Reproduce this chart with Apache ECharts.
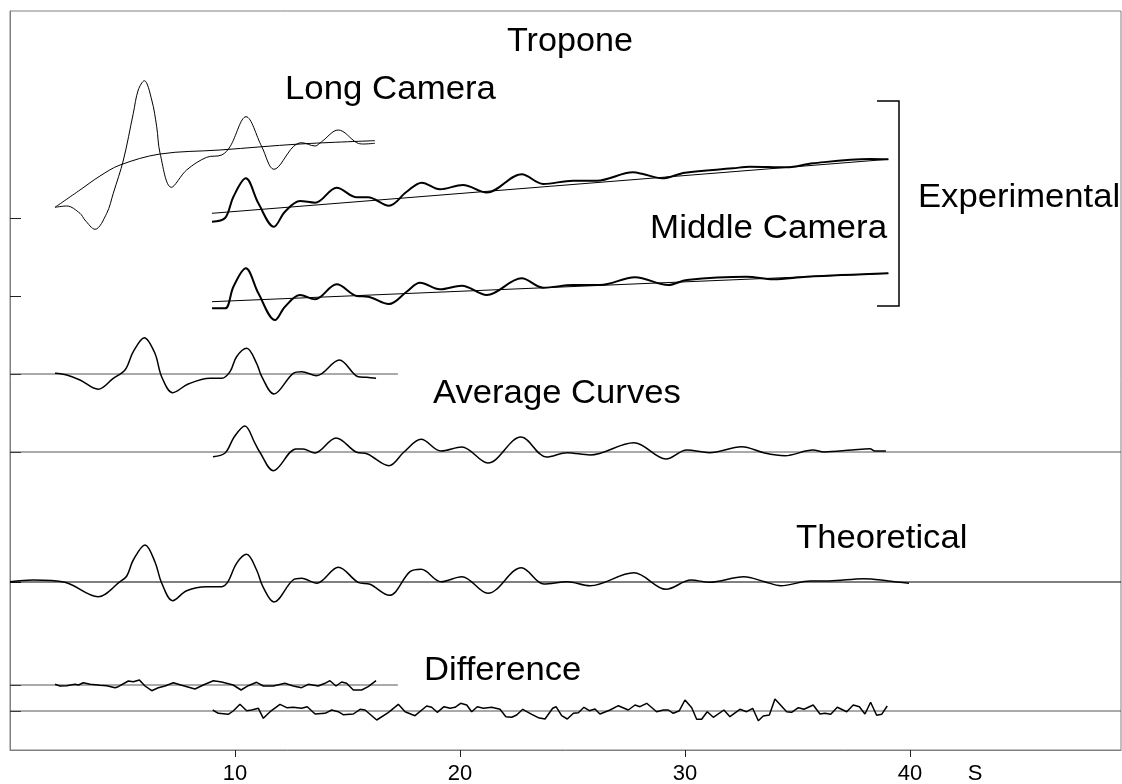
<!DOCTYPE html>
<html>
<head>
<meta charset="utf-8">
<script src="https://cdn.jsdelivr.net/npm/echarts@6/dist/echarts.min.js"></script>
<style>
  html, body { margin: 0; padding: 0; background: #fff; }
  #chart { width: 1122px; height: 784px; }
</style>
</head>
<body>
<div id="chart"></div>
<script>
/* ================================
   DATA  (x in S, y in stacked offset units)
================================ */
const xTicks = [10, 20, 30, 40];
const xMax = 49.38;
const shortBaseEnd = 17.24;

// experimental curves, absolute heights
const longExp = [[2.00,542.7],[2.52,544],[3.11,536.7],[3.33,530],[3.78,520.7],[4.30,536.7],[4.59,556.7],
  [5.04,590],[5.48,636.7],[5.70,660],[5.97,669.3],[6.30,650],[6.52,623.3],[6.67,596.7],[7.17,562.7],
  [7.85,580],[8.74,592.7],[9.41,595],[9.78,603.3],[10.49,633.3],[11.19,603.3],[11.73,580.7],[12.59,603.3],
  [12.96,607.3],[13.56,604],[13.85,608.3],[14.59,620],[15.41,607.3],[15.70,606],[16.22,606.7]];
const longBack = [[2.00,542.7],[3.11,560],[4.00,574],[4.89,585],[6.67,596],[9.33,600],[12.89,606],[16.22,609.3]];

const midExp1 = [[8.98,528.3],[9.56,532],[9.93,553.3],[10.48,571.7],[11.04,546.7],[11.73,523.3],[12.22,538.3],
  [12.89,549],[13.56,547.3],[14.52,562.3],[15.41,552.7],[15.91,552.7],[16.84,544.3],[17.63,558.3],[18.30,567.3],
  [19.11,560.7],[20.13,565],[21.19,557.5],[22.74,575.7],[23.70,566],[25.02,569.3],[26.08,569.3],[27.69,577.7],
  [28.13,576],[28.98,571.7],[30.00,577.3],[32.13,581.7],[32.89,583.3],[34.52,582.7],[35.69,586.7],[38.22,591],[39.04,590.7]];
const midBack1 = [[8.98,536.7],[39.04,590.7]];

const midExp2 = [[8.98,441.7],[9.56,441.7],[9.93,463.3],[10.48,481.7],[11.04,456.7],[11.78,430],[12.22,443.3],
  [12.89,455],[13.56,450.7],[14.52,465.7],[15.41,454],[15.92,453.3],[16.84,446],[17.63,458.3],[18.22,467.3],
  [19.11,460.7],[20.08,464.3],[21.19,455],[22.74,471.7],[23.70,462.3],[25.04,465],[26.22,465],[27.78,472.7],
  [29.26,465],[30.08,470],[32.74,473.3],[33.92,470.7],[35.41,473.3],[39.04,476.7]];
const midBack2 = [[8.98,448.3],[39.04,476.7]];

// stacked curves: deviation from their baseline
const avgLongOffset = 376;
const avgLong = [[2.00,0.7],[2.52,-1],[3.11,-6],[3.92,-15.3],[4.59,-4.3],[5.11,4],[5.48,22.3],[5.97,36.3],
  [6.44,20.7],[6.74,-2.7],[7.23,-18.7],[7.92,-10],[8.89,-4.3],[9.41,-4.3],[9.78,2.3],[10.07,17.3],[10.52,25.7],
  [10.96,10.7],[11.19,-2.7],[11.73,-20],[12.59,0.7],[12.96,2.3],[13.63,-1.7],[14.64,14],[15.48,-2.7],[15.85,-3.3],[16.27,-4.3]];

const avgMidOffset = 298;
const avgMid = [[9.02,-4.7],[9.56,-1],[9.97,15.3],[10.44,26],[10.89,8.7],[11.10,0],[11.71,-18.7],[12.71,3],
  [13.02,3],[13.55,-1],[14.49,14],[15.38,0],[15.89,-2],[16.84,-13.7],[17.51,0],[18.27,12.7],[19.16,1],[20.08,5],
  [21.24,-11],[22.71,15],[23.85,-5],[24.76,-0.7],[25.78,-3],[27.73,9.3],[29.16,-7],[30.08,2],[31.09,-0.7],
  [32.52,5.3],[33.54,-1],[34.44,-3.7],[35.69,2],[36.18,0],[37.42,2],[38.22,3.3],[38.44,1],[38.93,1]];

const theoOffset = 168;
const theo = [[0.00,0.3],[1.02,2],[2.44,-0.3],[3.92,-14.7],[4.89,0.3],[5.19,6],[5.48,22],[6.00,37],[6.44,20.3],
  [6.74,-1],[7.23,-18.7],[7.85,-8.7],[8.74,-4.7],[9.41,-4.7],[9.69,0.3],[10.07,18.7],[10.52,27.7],[10.96,12],
  [11.24,-4.7],[11.73,-20],[12.58,2],[12.96,3.7],[13.63,-1.3],[14.59,14.7],[15.47,-0.3],[16.00,-2.3],[16.86,-13.3],
  [17.78,10.3],[18.27,12.7],[19.16,0.3],[20.08,5.3],[21.24,-11.3],[22.73,14.3],[23.73,-2],[24.76,0.3],[25.78,-3.7],
  [27.73,9.3],[29.16,-7.3],[30.27,2],[31.09,-0.3],[32.62,5.3],[33.54,0.3],[34.26,-3.7],[35.58,1],[36.40,1],
  [37.93,3.3],[39.05,1],[39.96,-1.3]];

const diffLongOffset = 65;
const diffLong = [[2.00,0.7],[2.22,-1],[2.52,-0.7],[2.89,0.7],[3.04,0],[3.26,2.3],[3.56,0.7],[4.00,-0.3],
  [4.30,-0.7],[4.67,-2.7],[4.81,-1.7],[5.26,4],[5.48,3.3],[5.75,5],[6.00,-1],[6.30,-5.7],[6.59,-2.7],[6.89,-1],
  [7.26,2.3],[7.63,-0.3],[8.22,-4],[8.59,0],[9.04,4.3],[9.41,3],[9.92,0],[10.27,-5],[10.59,-0.7],[10.96,2.7],
  [11.26,-1],[11.70,-1],[12.22,1.7],[12.59,-1],[12.96,-2.7],[13.26,0.7],[13.70,-1],[14.00,1.7],[14.22,4.3],
  [14.49,-1],[14.74,3],[14.96,1.7],[15.26,-5],[15.63,-5],[15.92,-1.7],[16.27,4.3]];

const diffMidOffset = 39;
const diffMid = [[9.01,1],[9.26,-2.3],[9.70,-3.3],[9.92,0],[10.22,6.7],[10.52,0.3],[10.74,1],[11.04,2.7],
  [11.26,-7.3],[11.56,-0.7],[12.00,6.7],[12.30,3.3],[12.59,3.7],[12.96,2.7],[13.21,4.3],[13.56,-3],[14.00,-2.3],
  [14.30,1],[14.59,-0.7],[14.81,-3.7],[15.26,-3],[15.56,1.7],[15.78,1],[16.30,-9],[16.81,-1.7],[17.26,6.7],
  [17.56,-0.7],[18.00,-4.7],[18.52,5],[18.74,3.7],[18.99,-1.3],[19.29,4.3],[19.56,2.7],[19.78,3.7],[20.03,7.7],
  [20.30,6],[20.52,-0.7],[20.77,4.3],[21.04,2.7],[21.41,3.7],[21.78,1.7],[22.04,-5.7],[22.30,-6.3],[22.52,-4],
  [22.79,1.7],[23.19,-3.3],[23.48,-6.7],[23.78,-8],[24.12,2.7],[24.27,4.3],[24.52,-4.7],[24.77,-8],[25.04,-2.3],
  [25.26,-1.7],[25.51,3.7],[25.75,0.3],[26.00,2],[26.22,-3],[26.67,1],[27.04,5.3],[27.48,1],[27.78,6],[28.00,4.3],
  [28.30,7.7],[28.74,-0.7],[29.04,1],[29.26,1],[29.48,-2.3],[29.75,0.3],[30.00,11],[30.30,3.3],[30.52,-8.3],
  [30.74,-8.3],[30.99,-0.7],[31.26,-6.3],[31.73,1],[32.00,-5.7],[32.44,1.7],[32.74,-0.7],[33.01,2.7],[33.26,-9.7],
  [33.48,-5],[33.75,-4],[34.00,12],[34.52,-0.7],[34.74,-1.3],[35.04,3.3],[35.29,1.7],[35.70,6],[36.00,-3],
  [36.22,-2.3],[36.48,-3.3],[36.77,3.7],[37.19,-0.7],[37.48,6],[37.75,4.3],[38.00,-3],[38.25,8.7],[38.52,-4.3],
  [38.74,-3.3],[38.99,5]];

const leftTicks = [532, 454, 376, 298, 168, 65, 39];

/* ================================
   HELPERS
================================ */
function shift(arr, off) {
  return arr.map(p => [p[0], p[1] + off]);
}

function curve(data, width, smooth) {
  return {
    type: "line", data: data, showSymbol: false, smooth: smooth ? 0.35 : false,
    lineStyle: { color: "#000", width: width }, silent: true, z: 3
  };
}

function base(y, end, color) {
  return {
    type: "line", data: [[0, y], [end, y]], showSymbol: false,
    lineStyle: { color: color, width: 1 }, silent: true, z: 2
  };
}

/* ================================
   CHART
================================ */
const chart = echarts.init(document.getElementById("chart"), null, { renderer: "canvas" });
const font = "Liberation Sans, Arial, sans-serif";

// big labels are a touch wider than Liberation Sans, so stretch them a little
function label(text, x, y, size, align, sx) {
  return {
    type: "text", x: x, y: y, silent: true, scaleX: sx || 1,
    style: { text: text, fill: "#000", font: size + "px " + font, align: align || "left", verticalAlign: "middle" }
  };
}

chart.setOption({
  animation: false,
  backgroundColor: "#fff",
  grid: { left: 10, right: 1, top: 11, bottom: 34, show: true, borderColor: "#808080", borderWidth: 1,
    outerBoundsMode: "none" },
  xAxis: {
    type: "value", min: 0, max: xMax, interval: 10,
    axisLine: { lineStyle: { color: "#808080", width: 1 } },
    axisTick: { show: true, length: 7, lineStyle: { color: "#222" },
      customValues: xTicks },
    axisLabel: { fontFamily: font, fontSize: 22, color: "#000", margin: 13,
      customValues: xTicks },
    splitLine: { show: false }
  },
  yAxis: {
    type: "value", min: 0, max: 739,
    axisLine: { show: true, lineStyle: { color: "#808080", width: 1 } },
    axisTick: { show: true, inside: true, length: 11, lineStyle: { color: "#222" },
      customValues: leftTicks },
    axisLabel: { show: false },
    splitLine: { show: false }
  },
  series: [
    curve(longExp, 1, true),
    curve(longBack, 1, true),
    curve(midExp1, 2, true),
    curve(midBack1, 1, false),
    curve(midExp2, 2, true),
    curve(midBack2, 1, false),
    base(avgLongOffset, shortBaseEnd, "#555"),
    curve(shift(avgLong, avgLongOffset), 1.5, true),
    base(avgMidOffset, xMax, "#555"),
    curve(shift(avgMid, avgMidOffset), 1.5, true),
    base(theoOffset, xMax, "#000"),
    curve(shift(theo, theoOffset), 1.5, true),
    base(diffLongOffset, shortBaseEnd, "#555"),
    curve(shift(diffLong, diffLongOffset), 1.5, false),
    base(diffMidOffset, xMax, "#555"),
    curve(shift(diffMid, diffMidOffset), 1.5, false)
  ],
  graphic: [
    label("Tropone", 507, 41.5, 33, "left", 1.035),
    label("Long Camera", 285, 90, 33, "left", 1.055),
    label("Middle Camera", 650, 229, 33, "left", 1.06),
    label("Experimental", 918, 197.5, 33, "left", 1.05),
    label("Average Curves", 433, 394, 33, "left", 1.05),
    label("Theoretical", 796, 538.5, 33, "left", 1.05),
    label("Difference", 424, 670.5, 33, "left", 1.05),
    label("S", 975, 774, 22, "center"),
    {
      type: "polyline", silent: true,
      shape: { points: [[877, 101], [899, 101], [899, 306], [877, 306]] },
      style: { stroke: "#000", lineWidth: 1.5, fill: null }
    }
  ]
});
</script>
</body>
</html>
